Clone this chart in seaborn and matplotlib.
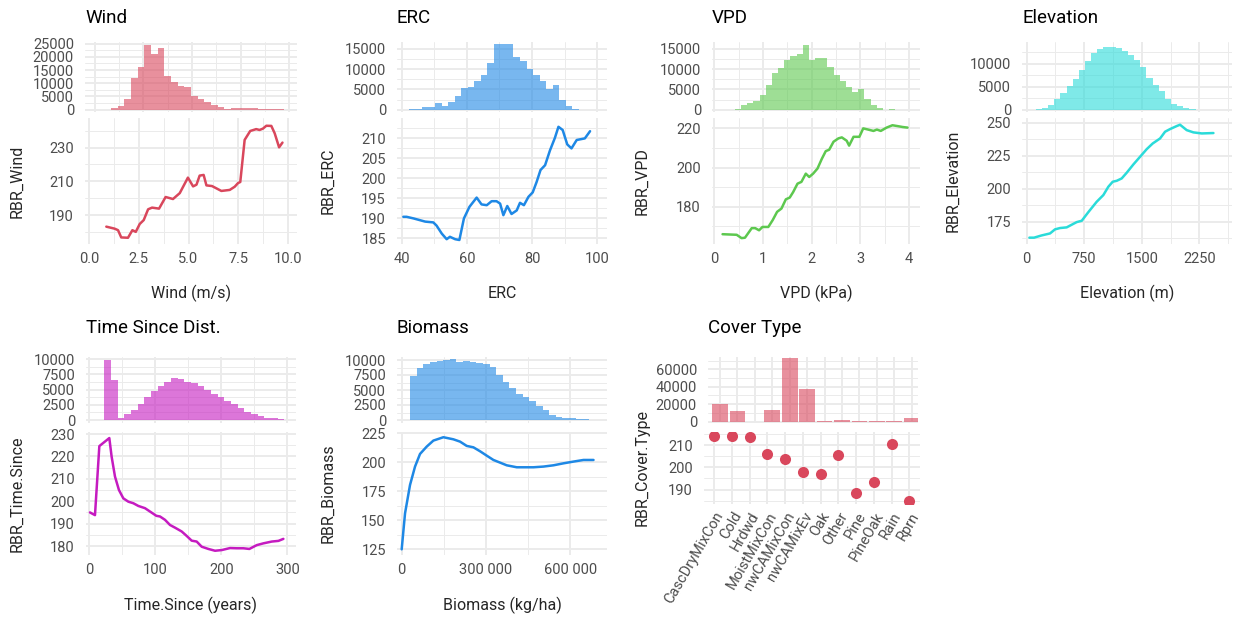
import numpy as np
import pandas as pd
import matplotlib
matplotlib.use("Agg")
import matplotlib.pyplot as plt
import seaborn as sns
from matplotlib.ticker import FixedLocator, FuncFormatter

# ---------------- data ----------------
# Wind
wind_bin_start, wind_bin_width = -0.171, 0.3414
wind_counts = [0, 0, 0, 500, 1500, 4000, 12000, 16000, 24500, 21000, 23500, 12800, 10500, 9000,
               8500, 5100, 4000, 2800, 1800, 1000, 300, 700, 700, 800, 700, 300, 300, 400, 300]
wind_x = [0.87, 1.29, 1.46, 1.62, 1.96, 2.18, 2.35, 2.55, 2.75, 2.97, 3.17, 3.52, 3.85, 4.22, 4.56,
          4.97, 5.23, 5.4, 5.56, 5.76, 5.9, 6.18, 6.65, 7.07, 7.32, 7.49, 7.6, 7.82, 8.1, 8.4,
          8.57, 8.74, 8.91, 9.16, 9.33, 9.55, 9.72]
wind_rbr = [183.1, 181.9, 181, 176.7, 176.5, 181, 180, 184.7, 187, 193.4, 194.4, 193.8, 200.7, 199.5, 203,
            212.2, 207, 208, 213.4, 213.8, 207.6, 207.2, 204.3, 204.9, 206.8, 209, 209.6, 234.6, 239.9, 241,
            240.5, 241.3, 243, 242.9, 238.5, 230.2, 233]

# ERC
erc_bin_start, erc_bin_width = 40.3, 2.0
erc_counts = [50, 200, 200, 600, 800, 1800, 1000, 2000, 3500, 5300, 5700, 7000, 8500, 11500,
              16000, 16000, 16000, 13000, 12000, 10000, 8500, 7000, 5000, 6000, 2500, 1000, 300, 100]
erc_x = [40.5, 41.5, 43.6, 47.2, 49.7, 50.7, 52.3, 53.8, 54.8, 56.4, 57.7, 59.1, 60.8, 63, 64.5,
         66.1, 67.6, 69.1, 70.2, 71.2, 72.4, 73.7, 75.3, 76.3, 77.5, 78.9, 80.2, 81.4, 82.6, 84,
         85.5, 87, 88.1, 89.4, 90.8, 92.1, 93.7, 96.2, 97.8]
erc_rbr = [190.4, 190.4, 190, 189.2, 189, 188.2, 186.2, 184.8, 185.4, 184.8, 184.6, 190, 192.9, 195.2, 193.5,
           193.3, 194.3, 194.3, 193.7, 190.8, 193.1, 191.1, 192, 193.9, 193.3, 195.4, 196.5, 199.1, 202.1, 203.3,
           207, 210.1, 212.9, 212.1, 208.5, 207.5, 209.6, 210, 211.8]

# VPD
vpd_bin_start, vpd_bin_width = 0.17, 0.1267
vpd_counts = [0, 50, 300, 1200, 1800, 2200, 3600, 6000, 9000, 10200, 12300, 13300, 13600, 15800, 12300,
              12800, 12800, 10500, 8500, 7000, 5500, 4500, 5200, 2600, 1300, 500, 100, 200, 100, 30]
vpd_x = [0.17, 0.46, 0.56, 0.63, 0.77, 0.84, 0.92, 0.99, 1.11, 1.2, 1.29, 1.38, 1.47, 1.55, 1.62,
         1.71, 1.79, 1.88, 1.95, 2.03, 2.12, 2.21, 2.29, 2.36, 2.45, 2.55, 2.62, 2.72, 2.77, 2.86,
         2.98, 3.06, 3.16, 3.27, 3.34, 3.42, 3.54, 3.66, 3.78, 3.87, 3.97]
vpd_rbr = [166, 165.7, 164, 164.2, 169.1, 169.1, 168, 169.7, 169.7, 173.2, 177.4, 179.1, 183.8, 184.7, 187.5,
           191.8, 192.7, 196.9, 195.2, 196.9, 199.5, 204.5, 208.4, 209.1, 213.2, 214.9, 215.4, 213.7, 211.2, 215.7,
           215.7, 220, 219.4, 218.7, 219.4, 218.7, 220.4, 221.6, 221.1, 220.7, 220.4]

# Elevation
elev_bin_start, elev_bin_width = 40, 80
elev_counts = [50, 150, 400, 1000, 2300, 3700, 5200, 6700, 8700, 10600, 12300, 13300, 13600, 13700,
               13400, 12800, 12000, 10900, 9400, 7000, 5400, 4200, 2300, 1400, 900, 400, 150, 50]
elev_x = [35, 96, 195, 304, 369, 434, 521, 586, 652, 717, 804, 912, 999, 1064, 1121, 1173, 1238, 1303,
          1390, 1477, 1564, 1642, 1738, 1803, 1868, 1955, 1998, 2085, 2172, 2281, 2433]
elev_rbr = [162.9, 162.9, 164.6, 166.1, 169.2, 170.2, 170.7, 172.7, 174.7, 175.7, 182.3, 190.1, 195.2, 201.5,
            205.3, 206, 207.8, 212.1, 218.4, 224.2, 230, 234.3, 238.1, 243.2, 245.2, 247.5, 248.5, 244.4,
            242.7, 241.9, 242.2]

# Time since disturbance
time_bin_start, time_bin_width = 22.7, 10.1
time_counts = [9800, 6500, 400, 1000, 1700, 2700, 3800, 4700, 5600, 6300, 6900, 6700, 6300, 6000,
               5600, 5000, 4300, 3700, 3100, 2600, 1900, 1300, 1000, 600, 400, 250, 100]
time_x = [1, 8.6, 15.2, 20.2, 25.3, 30.3, 33.8, 38.9, 44.9, 51.5, 59.1, 66.7, 74.2, 84.3, 91.9,
          101.5, 107, 114.6, 122.2, 129.8, 139.9, 147.5, 155, 162.6, 170.2, 180.3, 190.4, 200.5,
          213.1, 223.2, 233.3, 242.4, 253.5, 263.6, 276.3, 286.4, 293.9]
time_rbr = [195, 193.8, 224.6, 225.8, 227, 228.2, 219.9, 211, 205, 201.3, 199.8, 199.1, 197.9, 196.9, 195.4,
            193.5, 193.2, 191.7, 189.4, 188.2, 186.5, 184.5, 182.4, 182, 179.7, 178.7, 177.9, 178.2,
            179.1, 179, 179, 178.7, 180.4, 181.2, 182, 182.3, 183.2]

# Biomass
bio_bin_start, bio_bin_width = 29700, 23600
bio_counts = [7300, 8700, 9300, 9700, 9850, 9950, 10100, 9700, 9800, 9600, 9500, 9400, 8900, 7500,
              6300, 5300, 4400, 3800, 3200, 2400, 1600, 900, 500, 400, 300, 200, 100, 50]
bio_x = [0, 11900, 29700, 47500, 65300, 89000, 112800, 148500, 184000, 207800, 231600, 255300, 279000,
         302900, 326600, 350400, 374000, 409700, 445400, 469000, 504800, 540400, 576000, 611600, 647300, 683000]
bio_rbr = [125, 156, 180.5, 196.3, 207.2, 213.5, 218.7, 221.6, 219.8, 217.8, 214.1, 212.9, 209.5,
           205.7, 202, 199.7, 197.4, 195.7, 195.7, 195.7, 196.3, 197.4, 199.1, 200.6, 202, 202]

# Cover type
cover_types = ["CascDryMixCon", "Cold", "Hrdwd", "MoistMixCon", "nwCAMixCon", "nwCAMixEv",
               "Oak", "Other", "Pine", "PineOak", "Rain", "Rprn"]
cover_counts = [20000, 12300, 0, 13400, 72500, 37100, 500, 1900, 1100, 1100, 400, 4200]
cover_rbr = [214, 214, 213.7, 206, 203.7, 197.7, 197.1, 205.4, 188.6, 193.6, 210.4, 185]

# ---------------- style ----------------
RED = "#D9475C"
BLUE = "#1E88E5"
GREEN = "#5DC84F"
CYAN = "#2ADBD9"
MAGENTA = "#C51BC0"
HIST_ALPHA = 0.6
GRID = "#EBEBEB"
TICK_COLOR = "#4D4D4D"

sns.set_theme(style="white")
plt.rcParams["font.family"] = ["Roboto", "DejaVu Sans"]

W, H = 1246, 618
fig = plt.figure(figsize=(W / 100, H / 100), dpi=100)


def add_ax(l, t, r, b):
    return fig.add_axes([l / W, 1 - b / H, (r - l) / W, (b - t) / H])


TICK_FS = 10.5


def style(ax, xmaj, xmin, ymaj, ymin, xlim, ylim, xlabels=None, show_x=True):
    ax.set_xlim(xlim)
    ax.set_ylim(ylim)
    ax.xaxis.set_major_locator(FixedLocator(xmaj))
    ax.xaxis.set_minor_locator(FixedLocator(xmin))
    ax.yaxis.set_major_locator(FixedLocator(ymaj))
    ax.yaxis.set_minor_locator(FixedLocator(ymin))
    if xlabels is not None:
        ax.set_xticklabels(xlabels)
    for s in ax.spines.values():
        s.set_visible(False)
    ax.set_axisbelow(True)
    ax.grid(True, which="major", color=GRID, lw=1.4)
    ax.grid(True, which="minor", color=GRID, lw=0.7)
    ax.tick_params(which="both", length=0, colors=TICK_COLOR, labelsize=TICK_FS)
    ax.tick_params(axis="y", pad=8)
    ax.tick_params(axis="x", pad=6)
    ax.tick_params(axis="x", labelbottom=show_x)
    ax.set_xlabel("")
    ax.set_ylabel("")


def hist(ax, start, width, counts, color):
    counts = [float(c) for c in counts]
    edges = [start + width * i for i in range(len(counts) + 1)]
    centers = [(edges[i] + edges[i + 1]) / 2 for i in range(len(counts))]
    df = pd.DataFrame({"x": centers, "w": counts})
    sns.histplot(data=df, x="x", weights="w", bins=edges, ax=ax, color=color,
                 alpha=HIST_ALPHA, linewidth=0)


def line(ax, x, y, color):
    sns.lineplot(x=x, y=y, ax=ax, color=color, linewidth=1.8)


space_fmt = FuncFormatter(lambda v, p: f"{v:,.0f}".replace(",", " "))

TITLE_FS = 13.5
LABEL_FS = 11.5


def titles(x_left, y, title):
    fig.text(x_left / W, 1 - y / H, title, fontsize=TITLE_FS, ha="left", va="center", color="black")


def ylab(x, y, text):
    fig.text(x / W, 1 - y / H, text, fontsize=LABEL_FS, rotation=90, ha="center", va="center")


def xlab(x, y, text):
    fig.text(x / W, 1 - y / H, text, fontsize=LABEL_FS, ha="center", va="center")


R1H = (42, 112)
R1L = (118, 244)
R2H = (357, 423)
R2L = (432, 555)

# ---- Wind ----
l, r = 85, 297
ax = add_ax(l, R1H[0], r, R1H[1])
hist(ax, wind_bin_start, wind_bin_width, wind_counts, RED)
style(ax, [0, 2.5, 5, 7.5, 10], [1.25, 3.75, 6.25, 8.75], [0, 5000, 10000, 15000, 20000, 25000],
      [2500, 7500, 12500, 17500, 22500], (-0.49, 10.39), (-900, 25600), show_x=False)
ax = add_ax(l, R1L[0], r, R1L[1])
line(ax, wind_x, wind_rbr, RED)
style(ax, [0, 2.5, 5, 7.5, 10], [1.25, 3.75, 6.25, 8.75], [190, 210, 230], [180, 200, 220, 240],
      (-0.2, 10.45), (172.8, 247.6), xlabels=["0.0", "2.5", "5.0", "7.5", "10.0"])
titles(l, 18, "Wind")
ylab(17, (R1L[0] + R1L[1]) / 2, "RBR_Wind")
xlab((l + r) / 2, 293, "Wind (m/s)")

# ---- ERC ----
l, r = 397, 607
ax = add_ax(l, R1H[0], r, R1H[1])
hist(ax, erc_bin_start, erc_bin_width, erc_counts, BLUE)
style(ax, [40, 60, 80, 100], [50, 70, 90], [0, 5000, 10000, 15000], [2500, 7500, 12500],
      (38.56, 103), (-500, 16600), show_x=False)
ax = add_ax(l, R1L[0], r, R1L[1])
line(ax, erc_x, erc_rbr, BLUE)
style(ax, [40, 60, 80, 100], [50, 70, 90], [185, 190, 195, 200, 205, 210],
      [187.5, 192.5, 197.5, 202.5, 207.5, 212.5], (38.56, 103), (183.6, 215.1))
titles(l, 18, "ERC")
ylab(328, (R1L[0] + R1L[1]) / 2, "RBR_ERC")
xlab((l + r) / 2, 293, "ERC")

# ---- VPD ----
l, r = 712, 920
ax = add_ax(l, R1H[0], r, R1H[1])
hist(ax, vpd_bin_start, vpd_bin_width, vpd_counts, GREEN)
style(ax, [0, 1, 2, 3, 4], [0.5, 1.5, 2.5, 3.5], [0, 5000, 10000, 15000], [2500, 7500, 12500],
      (-0.047, 4.226), (-500, 16600), show_x=False)
ax = add_ax(l, R1L[0], r, R1L[1])
line(ax, vpd_x, vpd_rbr, GREEN)
style(ax, [0, 1, 2, 3, 4], [0.5, 1.5, 2.5, 3.5], [180, 200, 220], [170, 190, 210],
      (-0.047, 4.226), (161, 225.3))
titles(l, 18, "VPD")
ylab(642, (R1L[0] + R1L[1]) / 2, "RBR_VPD")
xlab((l + r) / 2, 293, "VPD (kPa)")

# ---- Elevation ----
l, r = 1022, 1232
ax = add_ax(l, R1H[0], r, R1H[1])
hist(ax, elev_bin_start, elev_bin_width, elev_counts, CYAN)
style(ax, [0, 750, 1500, 2250], [375, 1125, 1875, 2625], [0, 5000, 10000], [2500, 7500, 12500],
      (-61, 2675), (-435, 14780), show_x=False)
ax = add_ax(l, R1L[0], r, R1L[1])
line(ax, elev_x, elev_rbr, CYAN)
style(ax, [0, 750, 1500, 2250], [375, 1125, 1875, 2625], [175, 200, 225, 250],
      [162.5, 187.5, 212.5, 237.5], (-61, 2675), (158.1, 253.6))
titles(l, 18, "Elevation")
ylab(953, (R1L[0] + R1L[1]) / 2, "RBR_Elevation")
xlab((l + r) / 2, 293, "Elevation (m)")

# ---- Time since ----
l, r = 86, 296
ax = add_ax(l, R2H[0], r, R2H[1])
hist(ax, time_bin_start, time_bin_width, time_counts, MAGENTA)
style(ax, [0, 100, 200, 300], [50, 150, 250], [0, 2500, 5000, 7500, 10000],
      [1250, 3750, 6250, 8750], (-5, 313), (-490, 10330), show_x=False)
ax = add_ax(l, R2L[0], r, R2L[1])
line(ax, time_x, time_rbr, MAGENTA)
style(ax, [0, 100, 200, 300], [50, 150, 250], [180, 190, 200, 210, 220, 230],
      [175, 185, 195, 205, 215, 225], (-5, 313), (176, 230.9))
titles(l, 328, "Time Since Dist.")
ylab(17, (R2L[0] + R2L[1]) / 2, "RBR_Time.Since")
xlab((l + r) / 2, 605, "Time.Since (years)")

# ---- Biomass ----
l, r = 397, 607
ax = add_ax(l, R2H[0], r, R2H[1])
hist(ax, bio_bin_start, bio_bin_width, bio_counts, BLUE)
style(ax, [0, 300000, 600000], [150000, 450000], [0, 2500, 5000, 7500, 10000],
      [1250, 3750, 6250, 8750], (-16700, 731000), (-500, 10500), show_x=False)
ax = add_ax(l, R2L[0], r, R2L[1])
line(ax, bio_x, bio_rbr, BLUE)
style(ax, [0, 300000, 600000], [150000, 450000], [125, 150, 175, 200, 225],
      [137.5, 162.5, 187.5, 212.5], (-16700, 731000), (120.1, 226.1))
ax.xaxis.set_major_formatter(space_fmt)
titles(l, 328, "Biomass")
ylab(328, (R2L[0] + R2L[1]) / 2, "RBR_Biomass")
xlab((l + r) / 2, 605, "Biomass (kg/ha)")

# ---- Cover type ----
ax = add_ax(708, R2H[0], 918, R2H[1])
sns.barplot(x=cover_types, y=cover_counts, ax=ax, color=RED, alpha=HIST_ALPHA, width=0.9,
            saturation=1, errorbar=None, linewidth=0)
style(ax, list(range(12)), [], [0, 20000, 40000, 60000], [10000, 30000, 50000, 70000],
      (-0.69, 11.36), (-1600, 74100), show_x=False)
ax = add_ax(704, 432, 920, 504)
sns.stripplot(x=cover_types, y=cover_rbr, ax=ax, color=RED, jitter=False, size=8, linewidth=0)
style(ax, list(range(12)), [], [190, 200, 210], [185, 195, 205, 215],
      (-0.58, 11.6), (183.5, 215.9))
ax.set_xticks(range(12))
ax.set_xticklabels(cover_types, rotation=60, ha="right", va="top", rotation_mode="anchor")
ax.tick_params(axis="x", pad=4)
titles(708, 328, "Cover Type")
ylab(642, 468, "RBR_Cover.Type")

fig.savefig("out.png", dpi=100, facecolor="white")
